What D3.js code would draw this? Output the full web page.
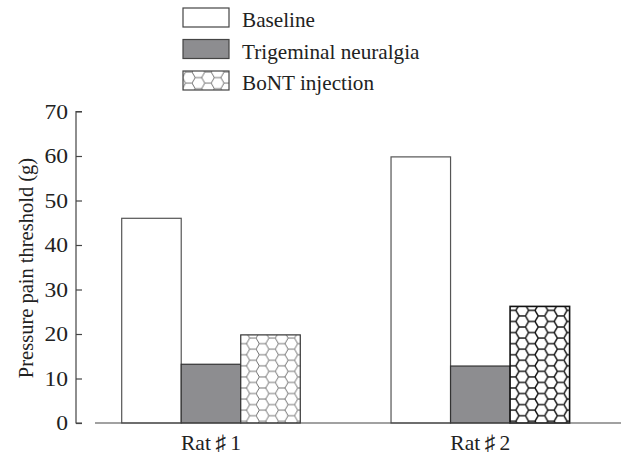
<!DOCTYPE html>
<html>
<head>
<meta charset="utf-8">
<script src="https://cdn.jsdelivr.net/npm/d3@7"></script>
<style>
  html, body { margin: 0; padding: 0; background: #fff; }
  svg { display: block; }
  text { font-family: "Liberation Serif", "Times New Roman", serif; fill: #222; }
</style>
</head>
<body>
<svg id="chart" width="621" height="459"></svg>
<script>
// Pressure pain threshold per rat and condition
const rats = ["Rat\u2009\u266F\u20091", "Rat\u2009\u266F\u20092"];
const conditions = ["Baseline", "Trigeminal neuralgia", "BoNT injection"];
const baseline = [46, 59.8];
const neuralgia = [13.2, 12.8];
const bont = [19.8, 26.2];
const yTicks = [0, 10, 20, 30, 40, 50, 60, 70];

const seriesValues = [baseline, neuralgia, bont];

const svg = d3.select("#chart");
const defs = svg.append("defs");

// Honeycomb fill built from flat-topped hexagons
function hexPattern(id, stroke, width) {
  const r = 6.4;
  const h = Math.sqrt(3) * r;
  const pw = 3 * r, ph = h;
  const p = defs.append("pattern")
    .attr("id", id)
    .attr("patternUnits", "userSpaceOnUse")
    .attr("width", pw).attr("height", ph);
  p.append("rect").attr("width", pw).attr("height", ph).attr("fill", "#fff");
  const path = [
    `M0,${h / 2} L${r / 2},0 L${1.5 * r},0 L${2 * r},${h / 2} L${1.5 * r},${h} L${r / 2},${h} Z`,
    `M${2 * r},${h / 2} L${3 * r},${h / 2}`
  ].join(" ");
  p.append("path").attr("d", path)
    .attr("fill", "none").attr("stroke", stroke).attr("stroke-width", width);
  return `url(#${id})`;
}
const hexLight = hexPattern("hexLight", "#666", 0.9);
const hexDark = hexPattern("hexDark", "#111", 1.4);

const y = d3.scaleLinear().domain([0, 70]).range([423, 111.5]);

const x0 = d3.scaleBand().domain(rats).range([121.7, 569.6]).paddingInner(0.337).paddingOuter(0);
const x1 = d3.scaleBand().domain(conditions).range([0, x0.bandwidth()]);

// y axis: ticks pointing inward
const yAxis = d3.axisRight(y).tickValues(yTicks).tickSize(6).tickFormat("");
const ya = svg.append("g").attr("transform", "translate(76,0)").call(yAxis);
ya.select(".domain").attr("stroke", "#444").attr("stroke-width", 1.2).attr("d", `M6,${y(70)}H0V${y(0)}H6`);
ya.selectAll(".tick line").attr("stroke", "#444").attr("stroke-width", 1.2);

// tick labels, set slightly wide
svg.append("g").selectAll("text").data(yTicks).join("text")
  .attr("transform", d => `translate(68,${y(d)}) scale(1.15,1)`)
  .attr("dy", "0.35em")
  .attr("text-anchor", "end")
  .attr("font-size", 20.5)
  .text(d => d);

// bars
const fills = ["#fff", "#8d8d90", null];
const strokes = ["#555", "#333", "#333"];
rats.forEach((rat, ri) => {
  const g = svg.append("g").attr("transform", `translate(${x0(rat)},0)`);
  conditions.forEach((c, ci) => {
    const v = seriesValues[ci][ri];
    const dark = ci === 2 && ri === 1;
    const fill = ci === 2 ? (ri === 0 ? hexLight : hexDark) : fills[ci];
    g.append("rect")
      .attr("x", x1(c)).attr("y", y(v))
      .attr("width", x1.bandwidth()).attr("height", y(0) - y(v))
      .attr("fill", fill)
      .attr("stroke", dark ? "#111" : strokes[ci])
      .attr("stroke-width", dark ? 1.6 : 1.2);
  });
});

// x axis baseline
const xa = svg.append("g").attr("transform", `translate(0,${y(0)})`)
  .call(d3.axisBottom(x0).tickSize(0).tickPadding(14));
xa.select(".domain").attr("stroke", "#444").attr("stroke-width", 1.2).attr("d", "M95,0H621");
xa.selectAll(".tick text")
  .attr("font-size", 21.5)
  .attr("font-family", "'Liberation Serif', serif")
  .attr("fill", "#222")
  .attr("dy", "0.6em");

// y axis title
svg.append("text")
  .attr("transform", `translate(33,268) rotate(-90)`)
  .attr("text-anchor", "middle")
  .attr("font-size", 20.5)
  .text("Pressure pain threshold (g)");

// legend
const legend = svg.append("g");
const legFills = ["#fff", "#8d8d90", hexLight];
conditions.forEach((c, i) => {
  const yy = 8 + i * 31.5;
  legend.append("rect")
    .attr("x", 183).attr("y", yy).attr("width", 46).attr("height", 19)
    .attr("fill", legFills[i]).attr("stroke", "#444").attr("stroke-width", 1.2);
  legend.append("text")
    .attr("x", 242).attr("y", yy + 19)
    .attr("font-size", 21.2)
    .text(c);
});
</script>
</body>
</html>
